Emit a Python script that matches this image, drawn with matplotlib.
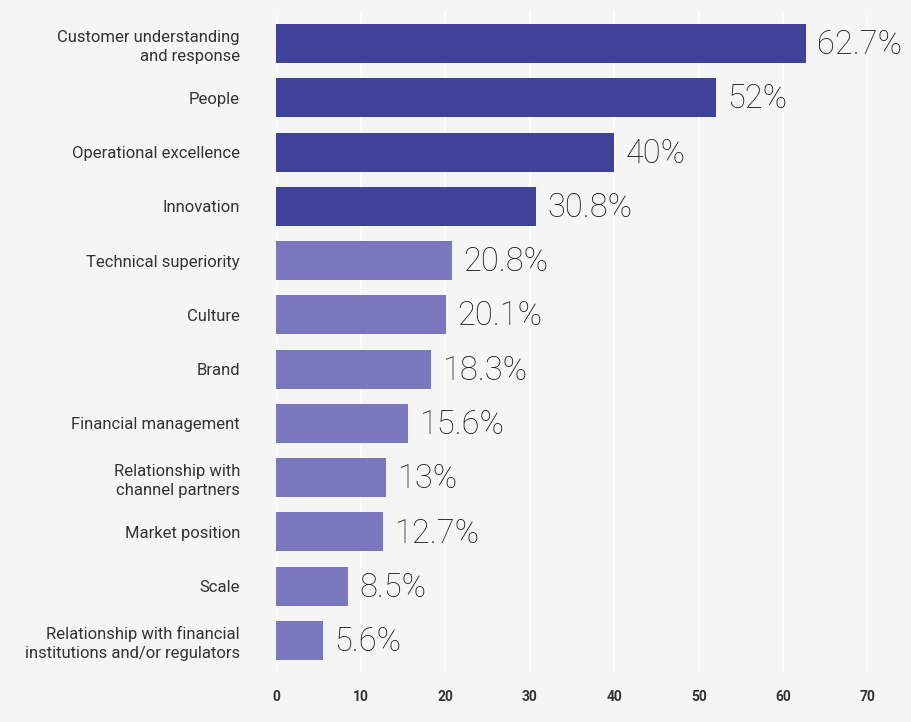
import matplotlib.pyplot as plt
import numpy as np

categories = [
    "Customer understanding\nand response",
    "People",
    "Operational excellence",
    "Innovation",
    "Technical superiority",
    "Culture",
    "Brand",
    "Financial management",
    "Relationship with\nchannel partners",
    "Market position",
    "Scale",
    "Relationship with financial\ninstitutions and/or regulators",
]
values = [62.7, 52, 40, 30.8, 20.8, 20.1, 18.3, 15.6, 13, 12.7, 8.5, 5.6]
value_labels = ["62.7%", "52%", "40%", "30.8%", "20.8%", "20.1%", "18.3%",
                "15.6%", "13%", "12.7%", "8.5%", "5.6%"]
x_ticks = [0, 10, 20, 30, 40, 50, 60, 70]

bg = "#f5f5f5"
dark = "#404299"
light = "#7a77bc"
plt.rcParams['font.family'] = ['Roboto', 'DejaVu Sans']

fig = plt.figure(figsize=(9.12, 7.22), dpi=100, facecolor=bg)
ax = fig.add_axes([276 / 912, 1 - 673 / 722, 592 / 912, 662 / 722])
ax.set_facecolor(bg)

y = np.arange(len(categories))
colors = [dark if i < 4 else light for i in range(len(categories))]
ax.barh(y, values, height=0.72, color=colors, zorder=2)

# percent labels just past the bar ends
for yi, v, lab in zip(y, values, value_labels):
    ax.text(v + 1.3, yi + 0.03, lab, va="center", ha="left", fontsize=23.5,
            fontweight="light", color="#1c1c1c", zorder=3)

ax.set_xlim(0, 70)
ax.set_ylim(len(categories) - 0.4, -0.6)
ax.set_xticks(x_ticks)
ax.set_xticklabels([str(t) for t in x_ticks], fontsize=10, fontweight="bold", color="#333333")
ax.set_yticks(y)
ax.set_yticklabels(categories, fontsize=12, color="#333333", linespacing=1.3)
ax.tick_params(axis="both", length=0)
ax.tick_params(axis="y", pad=26)
ax.tick_params(axis="x", pad=12)
ax.grid(axis="x", color="white", linewidth=1.2, zorder=1)
ax.set_axisbelow(True)
for s in ax.spines.values():
    s.set_visible(False)

fig.savefig("out.png", dpi=100, facecolor=bg)
